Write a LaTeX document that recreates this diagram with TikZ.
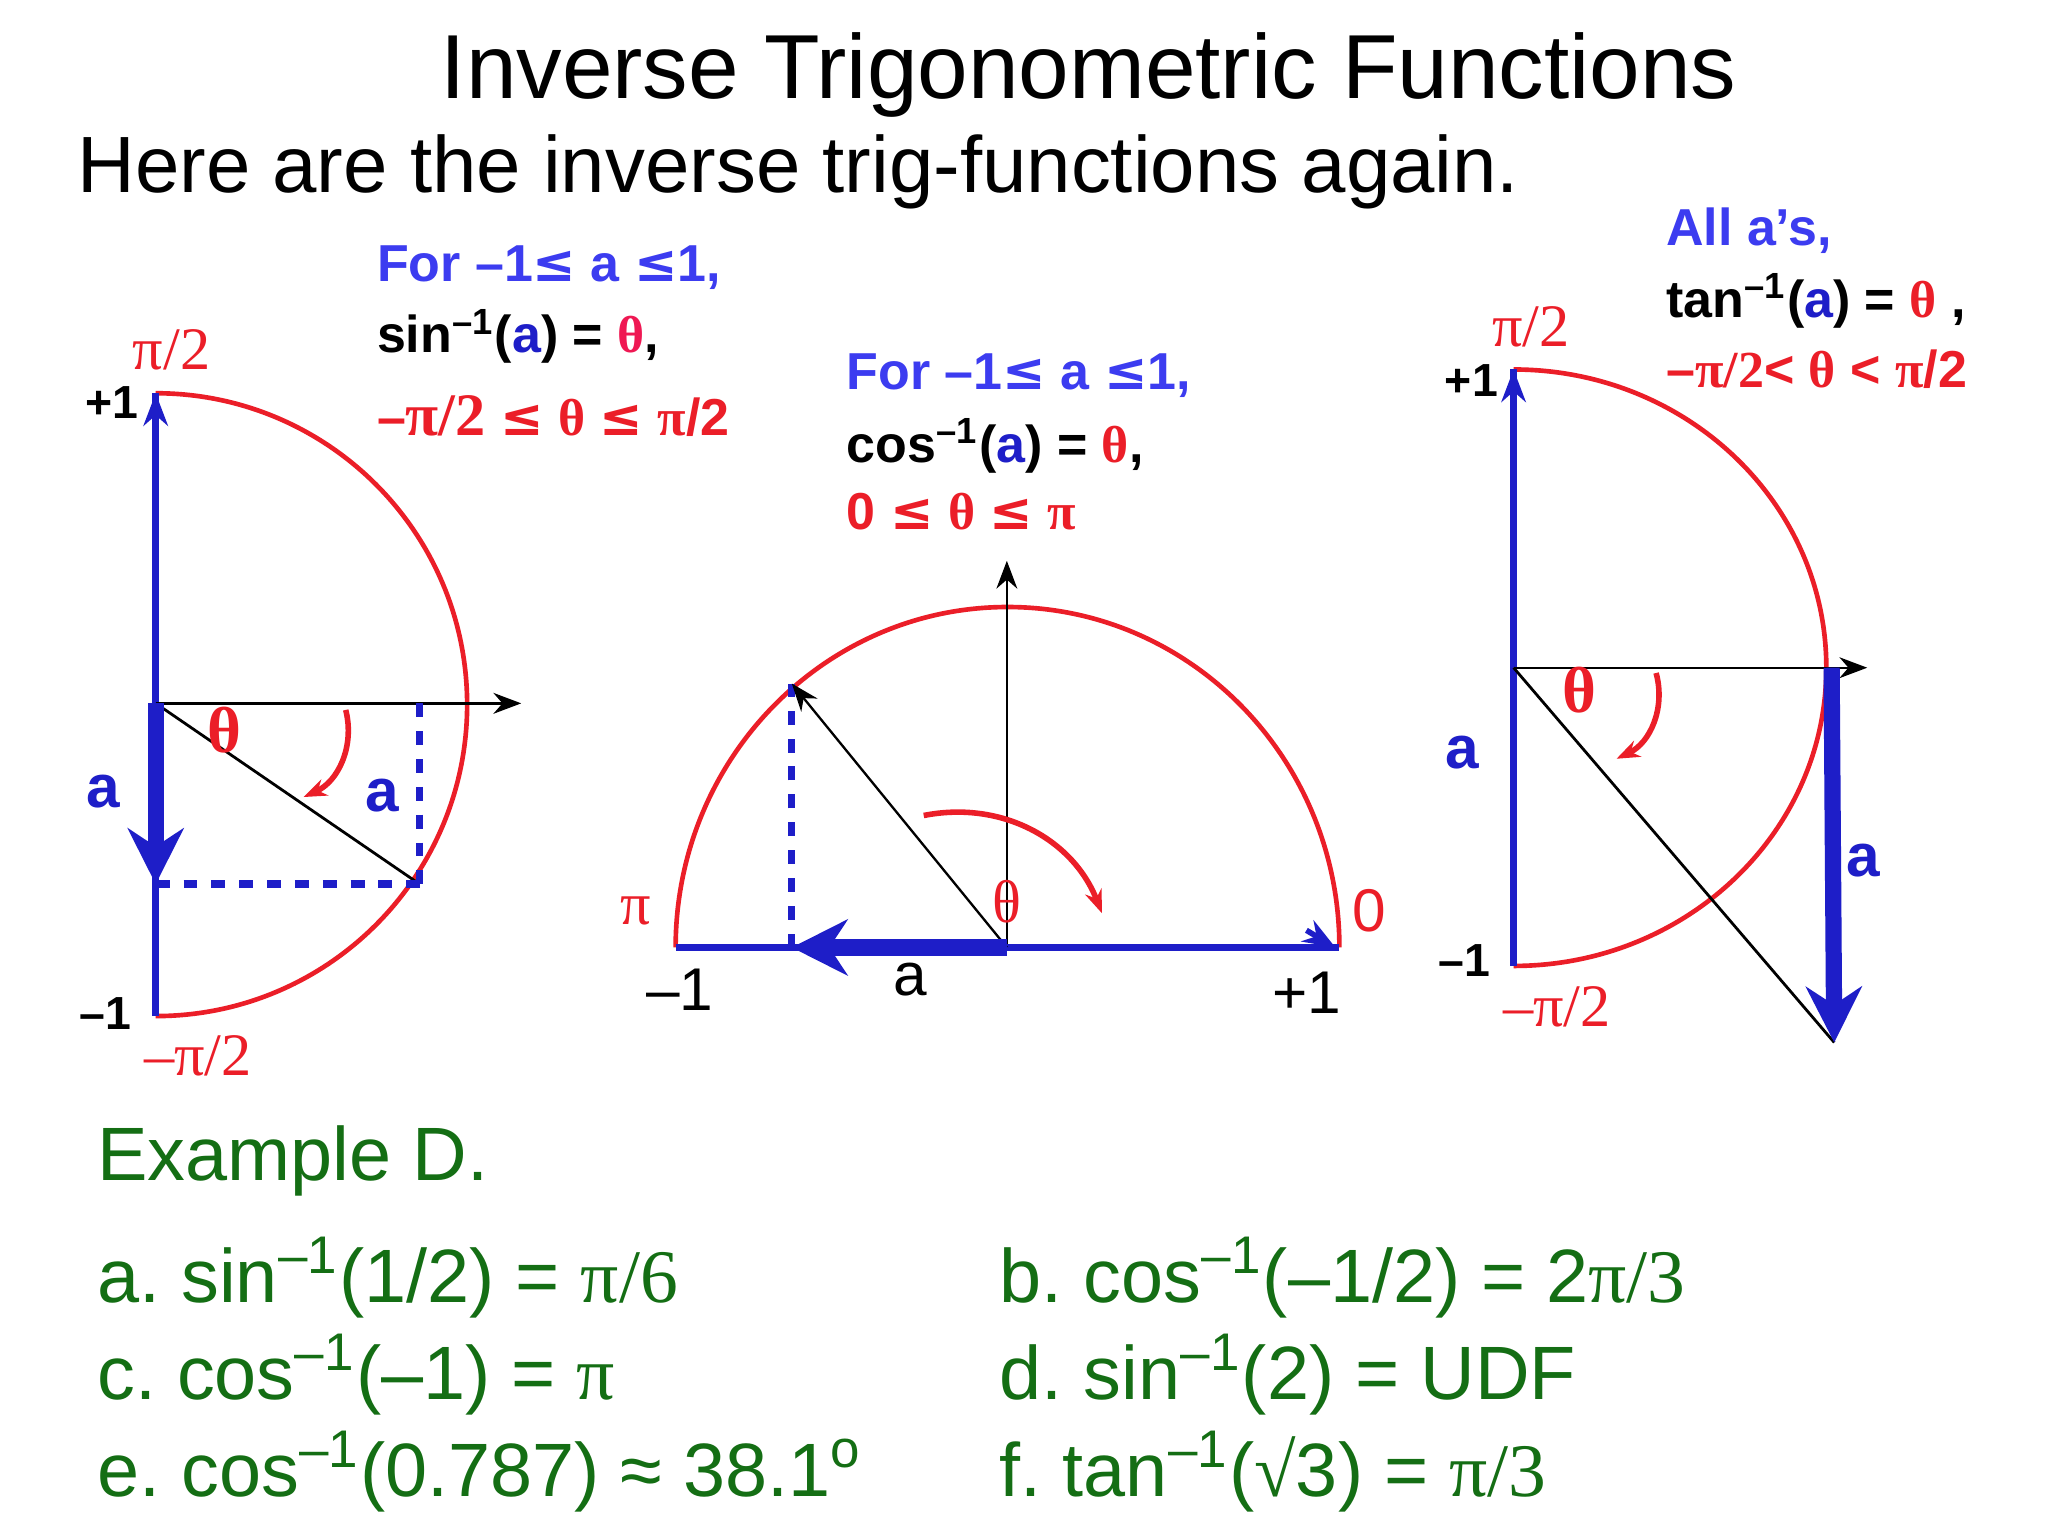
\documentclass[tikz,border=0pt]{standalone}
\usepackage{fontspec}
\setmainfont{Liberation Sans}
\newfontfamily\gkf{Liberation Serif}
\newfontfamily\djv{DejaVu Sans}
\usetikzlibrary{arrows.meta}
\definecolor{rd}{RGB}{235,30,40}
\definecolor{bl}{RGB}{30,30,200}
\definecolor{lb}{RGB}{60,60,240}
\definecolor{gr}{RGB}{20,110,20}
\newcommand{\g}[1]{{\gkf #1}}
\newcommand{\myle}{{\djv ≤}}
\newcommand{\inv}{\textsuperscript{–1}}
\frenchspacing
\begin{document}
\begin{tikzpicture}[x=0.01cm,y=-0.01cm,
  ax/.style={black,line width=0.5pt,-{Stealth[length=6pt]}},
  arcst/.style={rd,line width=1pt},
  thick blue/.style={bl,line width=3.5pt,-{Stealth[length=12pt,width=12pt]}},
  dsh/.style={bl,line width=1.6pt,dashed},
  curv/.style={rd,line width=1.2pt,-{Stealth[length=5pt]}},
  lab/.style={font=\fontsize{10}{12}\selectfont\bfseries},
  big/.style={font=\fontsize{11.2}{13.4}\selectfont\bfseries,anchor=west,align=left,inner xsep=0pt},
  ex/.style={gr,anchor=west,inner xsep=0pt,font=\fontsize{16.3}{19}\selectfont}]
\useasboundingbox (0,0) rectangle (1552,1164);
\fill[white] (0,0) rectangle (1552,1164);
\node (title) at (825,57) {\fontsize{19.6}{22}\selectfont Inverse Trigonometric Functions};
\node[anchor=west,inner xsep=0pt] (sub) at (58,130) {\fontsize{17.2}{20}\selectfont Here are the inverse trig-functions again.};
% left
\coordinate (L0) at (118,533);
\coordinate (Lt) at (118,298);
\coordinate (Lb) at (118,770);
\coordinate (Lx) at (395,533);
\coordinate (Lp) at (318,670);
\coordinate (Lq) at (318,533);
\coordinate (Lr) at (118,670);
\draw[arcst] (Lt) arc[start angle=-90,end angle=90,radius=236];
\draw[bl,line width=1.6pt] (Lt) -- (Lb);
\draw[bl,line width=1.2pt,-{Stealth[length=7pt]}] (118,310) -- (Lt);
\draw[ax] (L0) -- (Lx);
\draw[black,line width=0.6pt] (L0) -- (Lp);
\draw[dsh] (Lq) -- (Lp);
\draw[dsh] (Lr) -- (Lp);
\draw[thick blue] (L0) -- (Lr);
\draw[curv] (262,538) to[bend left=40] (230,604);
\node[lab,bl] (la1) at (78,600) {\fontsize{13}{15}\selectfont a};
\node[lab,bl] (la2) at (290,603) {\fontsize{13}{15}\selectfont a};
\node[rd] (lth) at (170,553) {\fontsize{14}{16}\selectfont\bfseries\g{θ}};
\node[lab] (lp1) at (85,305) {+1};
\node[lab] (lm1) at (80,768) {–1};
\node[rd] (lpi) at (130,265) {\fontsize{13}{15}\selectfont\g{π/2}};
\node[rd] (lmpi) at (150,800) {\fontsize{13}{15}\selectfont\g{–π/2}};
\node[big] (lt1) at (285,203) {\color{lb}For –1\myle{} a \myle1,};
\node[big] (lt2) at (285,255) {sin\inv(\textcolor{bl}{a}) = \textcolor{rd!80!magenta}{\g{θ}},};
\node[big,rd] (lt3) at (285,315) {–\g{\fontsize{13}{15}\selectfont π/2} \myle{} \g{θ} \myle{} \g{π}/2};
% middle
\coordinate (M0) at (763,718);
\coordinate (Ml) at (512,718);
\coordinate (Mr) at (1015,718);
\coordinate (Mu) at (763,425);
\coordinate (Mp) at (600,518);
\coordinate (Mq) at (600,718);
\draw[arcst] (Mr) arc[start angle=0,end angle=-180,x radius=251.5,y radius=258];
\draw[ax] (M0) -- (Mu);
\draw[bl,line width=1.6pt] (Ml) -- (Mr);
\draw[bl,line width=1.2pt,-{Stealth[length=7pt]}] (990,705) -- (1012,718);
\draw[dsh] (Mq) -- (Mp);
\draw[ax] (M0) -- (Mp);
\draw[thick blue] (M0) -- (Mq);
\draw[curv] (700,618) to[bend left=40] (835,692);
\node[rd] (mth) at (763,683) {\fontsize{13}{15}\selectfont\g{θ}};
\node[rd] (mpi) at (482,690) {\fontsize{13}{15}\selectfont\g{π}};
\node[rd] (m0) at (1038,690) {\fontsize{13}{15}\selectfont 0};
\node (mm1) at (515,750) {\fontsize{13}{15}\selectfont –1};
\node (mp1) at (990,752) {\fontsize{13}{15}\selectfont +1};
\node (ma) at (690,742) {\fontsize{13}{15}\selectfont a};
\node[big] (mt1) at (641,285) {\color{lb}For –1\myle{} a \myle1,};
\node[big] (mt2) at (641,338) {cos\inv(\textcolor{bl}{a}) = \textcolor{rd}{\g{θ}},};
\node[big,rd] (mt3) at (641,388) {0 \myle{} \g{θ} \myle{} \g{π}};
% right
\coordinate (R0) at (1147,506);
\coordinate (Rt) at (1147,280);
\coordinate (Rb) at (1147,732);
\coordinate (Rx) at (1415,506);
\coordinate (Rq) at (1388,506);
\coordinate (Rp) at (1390,790);
\draw[arcst] (Rt) arc[start angle=-90,end angle=90,x radius=237,y radius=226];
\draw[bl,line width=1.6pt] (Rt) -- (Rb);
\draw[bl,line width=1.2pt,-{Stealth[length=7pt]}] (1147,292) -- (Rt);
\draw[ax] (R0) -- (Rx);
\draw[black,line width=0.6pt] (R0) -- (Rp);
\draw[thick blue] (Rq) -- (Rp);
\draw[curv] (1255,510) to[bend left=40] (1225,575);
\node[rd] (rth) at (1197,523) {\fontsize{14}{16}\selectfont\bfseries\g{θ}};
\node[lab,bl] (ra1) at (1108,570) {\fontsize{13}{15}\selectfont a};
\node[lab,bl] (ra2) at (1412,652) {\fontsize{13}{15}\selectfont a};
\node[lab] (rp1) at (1115,288) {+1};
\node[lab] (rm1) at (1110,728) {–1};
\node[rd] (rpi) at (1160,248) {\fontsize{13}{15}\selectfont\g{π/2}};
\node[rd] (rmpi) at (1180,763) {\fontsize{13}{15}\selectfont\g{–π/2}};
\node[big] (rt1) at (1262,175) {\color{lb}All a’s,};
\node[big] (rt2) at (1262,228) {tan\inv(\textcolor{bl}{a}) = \textcolor{rd}{\g{θ}} ,};
\node[big,rd] (rt3) at (1262,280) {–\g{π/2}< \g{θ} < \g{π}/2};
% examples
\node[ex] (exd) at (73,880) {Example D.};
\node[ex] (ea) at (73,968) {a. sin\inv(1/2) = \g{π/6}};
\node[ex] (eb) at (757,968) {b. cos\inv(–1/2) = 2\g{π/3}};
\node[ex] (ec) at (73,1042) {c. cos\inv(–1) = \g{π}};
\node[ex] (ed) at (757,1042) {d. sin\inv(2) = UDF};
\node[ex] (ee) at (73,1115) {e. cos\inv(0.787) ≈ 38.1\textsuperscript{o}};
\node[ex] (ef) at (757,1115) {f. tan\inv(\g{√}3) = \g{π/3}};
\end{tikzpicture}
\end{document}
